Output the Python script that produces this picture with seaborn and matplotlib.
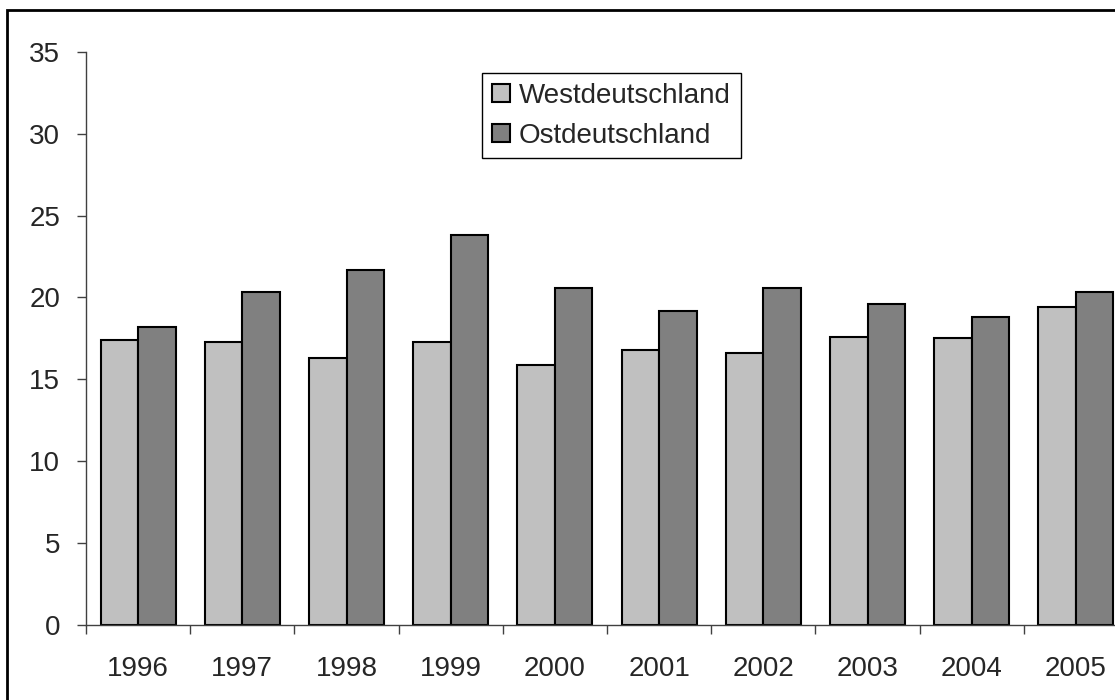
import numpy as np
import pandas as pd
import seaborn as sns
import matplotlib
matplotlib.use("Agg")
import matplotlib.pyplot as plt
from matplotlib.patches import Rectangle

# Werte
jahre = ["1996", "1997", "1998", "1999", "2000", "2001", "2002", "2003", "2004", "2005"]
west = [17.4, 17.3, 16.3, 17.3, 15.9, 16.8, 16.6, 17.6, 17.5, 19.4]
ost = [18.2, 20.3, 21.7, 23.8, 20.6, 19.2, 20.6, 19.6, 18.8, 20.3]
reihen = ["Westdeutschland", "Ostdeutschland"]
farben = ["#c0c0c0", "#808080"]

df = pd.DataFrame({
    "Jahr": jahre * 2,
    "Wert": west + ost,
    "Region": [reihen[0]] * len(jahre) + [reihen[1]] * len(jahre),
})

sns.set_style("white")
plt.rcParams["font.family"] = ["Liberation Sans", "DejaVu Sans"]

fig = plt.figure(figsize=(11.15, 7), dpi=100)
ax = fig.add_axes([86 / 1115, 75 / 700, 1042 / 1115, 573.3 / 700])

sns.barplot(data=df, x="Jahr", y="Wert", hue="Region", palette=farben,
            width=0.72, edgecolor="black", linewidth=1.5, saturation=1,
            ax=ax)

ax.set_xlim(-0.5, 9.5)
ax.set_ylim(0, 35)
ax.set_yticks(range(0, 36, 5))
ax.set_xlabel("")
ax.set_ylabel("")

# Trennstriche zwischen den Jahren
ax.set_xticks(np.arange(-0.5, 10, 1), minor=True)
ax.tick_params(axis="x", which="major", length=0, pad=22, labelsize=20)
ax.tick_params(axis="x", which="minor", length=6.5, width=1, color="#404040",
               direction="out", bottom=True)
ax.tick_params(axis="y", length=6.5, width=1, color="#404040", pad=12,
               labelsize=20, left=True)

for s in ["top", "right"]:
    ax.spines[s].set_visible(False)
for s in ["left", "bottom"]:
    ax.spines[s].set_color("#404040")
    ax.spines[s].set_linewidth(1)

ax.legend(loc="upper left", bbox_to_anchor=(482 / 1115, 1 - 73 / 700),
          bbox_transform=fig.transFigure, borderaxespad=0, fontsize=20,
          frameon=True, fancybox=False, edgecolor="black", framealpha=1,
          handlelength=0.65, handleheight=0.65, handletextpad=0.33,
          borderpad=0.35, labelspacing=0.5, title=None)
ax.get_legend().get_frame().set_linewidth(1)

# Rahmen (rechts und unten abgeschnitten)
fig.patches.append(Rectangle((7 / 1115, -0.1), 1.2, 1.1 - 10 / 700,
                             transform=fig.transFigure, fill=False,
                             edgecolor="black", linewidth=2))

fig.savefig("out.png", dpi=100)
